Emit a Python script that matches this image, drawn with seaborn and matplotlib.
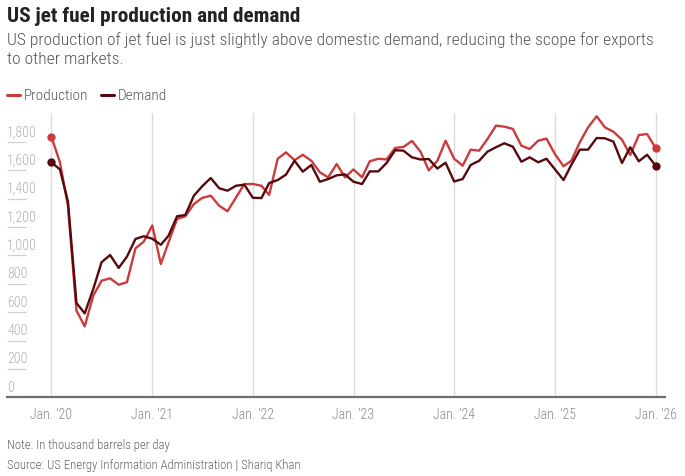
import matplotlib
matplotlib.use("Agg")
import matplotlib.pyplot as plt
from matplotlib import font_manager
from matplotlib.transforms import offset_copy
import seaborn as sns
import pandas as pd

# ---------------- data (thousand barrels per day, monthly Jan 2020 - Jan 2026) ----------------
months = pd.date_range("2020-01-01", "2026-01-01", freq="MS")
production = [
    1835, 1655, 1350, 610, 500, 716, 821, 838, 793, 810, 1049, 1096,      # 2020
    1210, 939, 1091, 1256, 1275, 1361, 1404, 1420, 1349, 1310, 1408, 1502,  # 2021
    1502, 1490, 1425, 1680, 1725, 1670, 1708, 1666, 1584, 1549, 1643, 1549,  # 2022
    1605, 1549, 1662, 1680, 1675, 1756, 1763, 1805, 1730, 1598, 1665, 1807,  # 2023
    1680, 1631, 1744, 1737, 1819, 1913, 1906, 1890, 1772, 1749, 1807, 1822,  # 2024
    1712, 1627, 1666, 1796, 1901, 1979, 1901, 1870, 1814, 1706, 1847, 1854,  # 2025
    1756,                                                                    # Jan 2026
]
demand = [
    1655, 1605, 1380, 664, 591, 763, 951, 1002, 911, 990, 1115, 1134,      # 2020
    1117, 1074, 1138, 1275, 1284, 1420, 1486, 1544, 1472, 1455, 1490, 1497,  # 2021
    1405, 1403, 1509, 1530, 1568, 1666, 1589, 1636, 1518, 1537, 1563, 1570,  # 2022
    1518, 1502, 1591, 1591, 1650, 1740, 1737, 1690, 1675, 1678, 1611, 1652,  # 2023
    1520, 1537, 1636, 1666, 1730, 1761, 1789, 1765, 1659, 1690, 1655, 1680,  # 2024
    1605, 1530, 1636, 1744, 1744, 1826, 1824, 1800, 1650, 1761, 1662, 1708,  # 2025
    1631,                                                                    # Jan 2026
]
series_names = ["Production", "Demand"]
y_ticks = [0, 200, 400, 600, 800, 1000, 1200, 1400, 1600, 1800]
x_tick_years = [2020, 2021, 2022, 2023, 2024, 2025, 2026]
x_tick_labels = ["Jan. \u201920", "Jan. \u201921", "Jan. \u201922", "Jan. \u201923",
                 "Jan. \u201924", "Jan. \u201925", "Jan. \u201926"]

title = "US jet fuel production and demand"
subtitle = ("US production of jet fuel is just slightly above domestic demand, reducing the scope for exports\n"
            "to other markets.")
note = "Note: In thousand barrels per day"
source = "Source: US Energy Information Administration | Shariq Khan"

colors = {"Production": "#cc3a3c", "Demand": "#560a0d"}

# ---------------- fonts ----------------
sns.set_theme(style="white")
available = {f.name for f in font_manager.fontManager.ttflist}
base = None
for cand in ["Roboto Condensed", "Liberation Sans Narrow", "Open Sans Condensed", "Roboto", "DejaVu Sans"]:
    if cand in available:
        base = cand
        break
plt.rcParams["font.family"] = [base, "DejaVu Sans"]
LIGHT = "light"

# ---------------- figure ----------------
W, H = 685, 477
fig = plt.figure(figsize=(W / 100, H / 100), dpi=100)
ax_left, ax_right = 7 / W, 665 / W
ax_bottom, ax_top = (H - 398.3) / H, (H - 114.3) / H
ax = fig.add_axes([ax_left, ax_bottom, ax_right - ax_left, ax_top - ax_bottom])

df = pd.DataFrame({
    "date": list(months) * 2,
    "value": production + demand,
    "series": ["Production"] * len(months) + ["Demand"] * len(months),
})

sns.lineplot(data=df, x="date", y="value", hue="series", hue_order=series_names,
             palette=colors, linewidth=1.7, ax=ax, legend=False, zorder=3)

# end-point markers
for name, vals in zip(series_names, [production, demand]):
    ax.plot([months[0], months[-1]], [vals[0], vals[-1]], "o", ms=5,
            color=colors[name], zorder=4)

# axes limits
ax.set_xlim(pd.Timestamp("2020-01-01") - pd.Timedelta(days=161),
            pd.Timestamp("2026-01-01") + pd.Timedelta(days=34))
ax.set_ylim(0, 2000)

# x ticks / grid
ax.set_xticks([pd.Timestamp(f"{y}-01-01") for y in x_tick_years])
ax.set_xticklabels(x_tick_labels, fontsize=10, color="#8a8a8a", fontweight=LIGHT)
ax.tick_params(axis="x", length=0, pad=7)
ax.grid(axis="x", color="#dcdcdc", linewidth=1.0, zorder=0)
ax.grid(axis="y", visible=False)

# y ticks: short inward lines with labels placed above them
ax.set_yticks(y_ticks)
ax.set_yticklabels([])
ax.tick_params(axis="y", direction="in", length=13.5, width=0.9, color="#d0d0d0", left=True)
trans = offset_copy(ax.get_yaxis_transform(), fig=fig, x=0, y=2.5, units="points")
for v in y_ticks:
    ax.text(0.0, v, f"{v:,}", transform=trans, ha="left", va="bottom",
            fontsize=10, color="#b0b0b0", fontweight=LIGHT)

for s in ["left", "right", "top"]:
    ax.spines[s].set_visible(False)
ax.spines["bottom"].set_color("#6e6e6e")
ax.spines["bottom"].set_linewidth(1.6)
ax.set_xlabel("")
ax.set_ylabel("")

# ---------------- texts ----------------
def fx(px):
    return px / W

def fy(px):
    return 1 - px / H

fig.text(fx(7), fy(17), title, fontsize=15.3, fontweight="bold", color="#222222", va="center", ha="left")
fig.text(fx(7), fy(32), subtitle, fontsize=12.6, color="#555555", va="top", ha="left",
         linespacing=1.3, fontweight=LIGHT)

# legend
leg_y = fy(96)
for name, (lx, tx) in zip(series_names, [(7, 24), (101, 118)]):
    fig.add_artist(plt.Line2D([fx(lx), fx(lx + 13)], [leg_y, leg_y], color=colors[name], lw=2.2))
    fig.text(fx(tx), leg_y, name, fontsize=11, color="#555555", va="center", ha="left",
             fontweight=LIGHT)

fig.text(fx(7), fy(446), note, fontsize=9.2, color="#666666", va="center", ha="left", fontweight=LIGHT)
fig.text(fx(7), fy(466), source, fontsize=9.2, color="#666666", va="center", ha="left", fontweight=LIGHT)

fig.savefig("out.png", dpi=100)
